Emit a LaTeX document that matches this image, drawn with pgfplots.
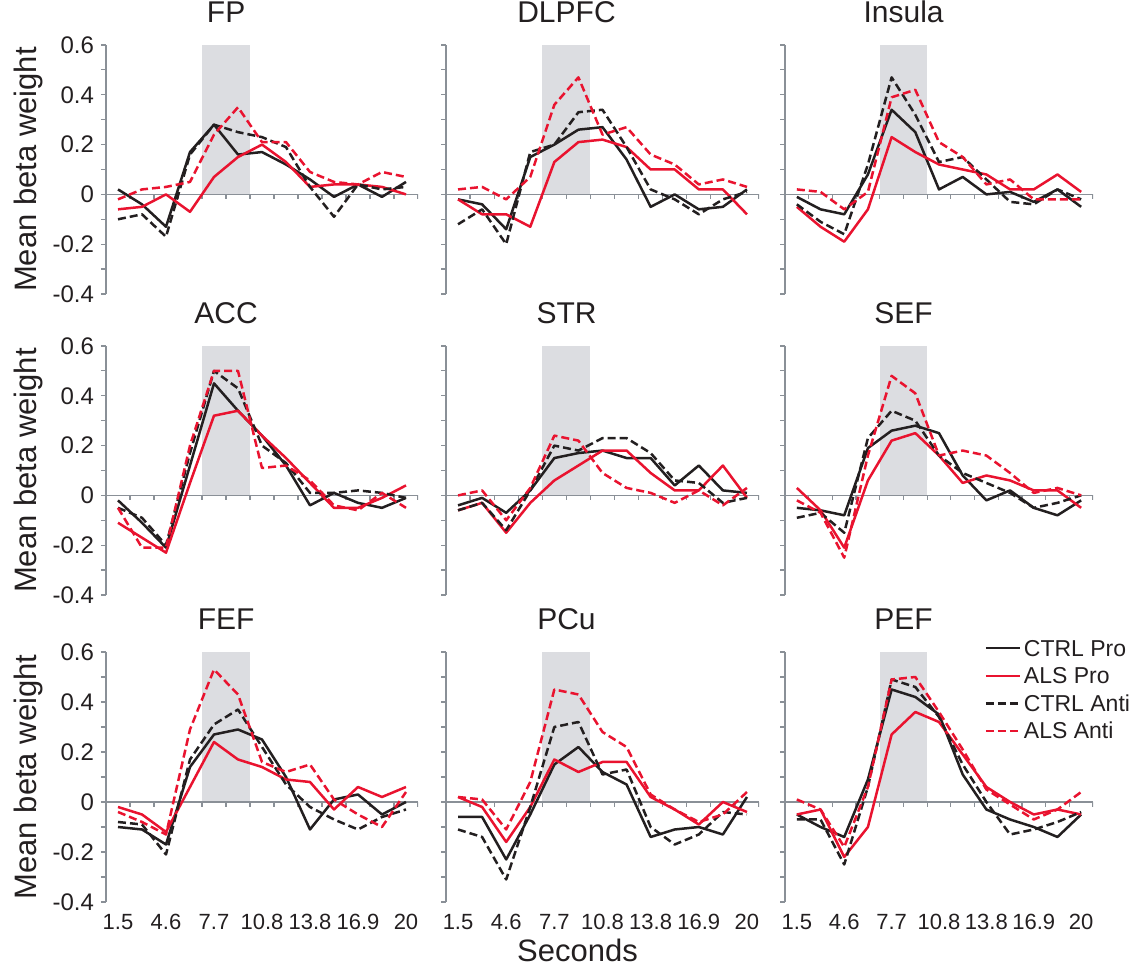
\documentclass[border=0pt]{standalone}
\usepackage{fontspec}
\setmainfont{Liberation Sans}
\usepackage{pgfplots}
\usepackage{pgfplotstable}
\pgfplotsset{compat=1.18}

\definecolor{ctrl}{RGB}{35,31,32}
\definecolor{als}{RGB}{233,19,47}
\definecolor{shadegray}{RGB}{220,221,225}
\definecolor{axgray}{RGB}{138,144,151}

% columns: t = time bin, cp = CTRL Pro, ap = ALS Pro, ca = CTRL Anti, aa = ALS Anti
\pgfplotstableread{
t  cp    ap    ca    aa
1  0.02  -0.06 -0.10 -0.02
2  -0.04 -0.05 -0.08 0.02
3  -0.13 0.00  -0.17 0.03
4  0.17  -0.07 0.16  0.05
5  0.28  0.07  0.28  0.24
6  0.16  0.15  0.25  0.35
7  0.17  0.20  0.23  0.21
8  0.12  0.13  0.19  0.21
9  0.06  0.03  0.03  0.09
10 -0.01 0.04  -0.09 0.05
11 0.04  0.04  0.04  0.04
12 -0.01 0.03  0.02  0.09
13 0.05  0.00  0.03  0.07
}\fp
\pgfplotstableread{
t  cp    ap    ca    aa
1  -0.02 -0.02 -0.12 0.02
2  -0.04 -0.08 -0.06 0.03
3  -0.14 -0.08 -0.20 -0.02
4  0.15  -0.13 0.17  0.07
5  0.20  0.13  0.20  0.36
6  0.26  0.21  0.33  0.47
7  0.27  0.22  0.34  0.24
8  0.14  0.19  0.19  0.27
9  -0.05 0.10  0.02  0.16
10 0.00  0.10  -0.02 0.12
11 -0.06 0.02  -0.08 0.04
12 -0.05 0.02  -0.02 0.06
13 0.02  -0.08 0.01  0.03
}\dlpfc
\pgfplotstableread{
t  cp    ap    ca    aa
1  -0.01 -0.05 -0.04 0.02
2  -0.06 -0.13 -0.11 0.01
3  -0.08 -0.19 -0.16 -0.06
4  0.08  -0.06 0.12  0.01
5  0.34  0.23  0.47  0.39
6  0.25  0.17  0.32  0.42
7  0.02  0.12  0.13  0.21
8  0.07  0.10  0.15  0.15
9  0.00  0.08  0.06  0.04
10 0.01  0.02  -0.03 0.06
11 -0.03 0.02  -0.04 -0.02
12 0.02  0.08  0.02  -0.02
13 -0.05 0.01  -0.02 -0.02
}\insula
\pgfplotstableread{
t  cp    ap    ca    aa
1  -0.02 -0.11 -0.05 -0.05
2  -0.11 -0.17 -0.09 -0.21
3  -0.21 -0.23 -0.20 -0.21
4  0.12  0.05  0.17  0.20
5  0.45  0.32  0.50  0.50
6  0.34  0.34  0.43  0.50
7  0.24  0.24  0.20  0.11
8  0.12  0.15  0.13  0.12
9  -0.04 0.05  0.01  0.06
10 0.01  -0.05 0.01  -0.04
11 -0.03 -0.05 0.02  -0.06
12 -0.05 -0.01 0.01  0.01
13 -0.01 0.04  -0.01 -0.05
}\acc
\pgfplotstableread{
t  cp    ap    ca    aa
1  -0.04 -0.06 -0.06 0.00
2  -0.01 -0.03 -0.03 0.02
3  -0.07 -0.15 -0.14 -0.10
4  0.02  -0.03 0.02  0.03
5  0.15  0.06  0.20  0.24
6  0.17  0.12  0.18  0.22
7  0.18  0.18  0.23  0.09
8  0.15  0.18  0.23  0.03
9  0.15  0.09  0.17  0.01
10 0.04  0.02  0.06  -0.03
11 0.12  0.02  0.05  0.02
12 0.02  0.12  -0.03 -0.04
13 0.01  -0.01 -0.01 0.03
}\str
\pgfplotstableread{
t  cp    ap    ca    aa
1  -0.05 0.03  -0.09 -0.02
2  -0.06 -0.06 -0.07 -0.07
3  -0.08 -0.21 -0.15 -0.25
4  0.19  0.06  0.23  0.16
5  0.26  0.22  0.34  0.48
6  0.28  0.25  0.30  0.41
7  0.25  0.16  0.16  0.16
8  0.08  0.05  0.09  0.18
9  -0.02 0.08  0.05  0.16
10 0.02  0.06  0.01  0.09
11 -0.05 0.02  -0.05 0.01
12 -0.08 0.02  -0.03 0.03
13 -0.02 -0.05 0.00  0.00
}\sef
\pgfplotstableread{
t  cp    ap    ca    aa
1  -0.10 -0.02 -0.08 -0.04
2  -0.11 -0.05 -0.09 -0.08
3  -0.17 -0.12 -0.21 -0.13
4  0.14  0.06  0.17  0.29
5  0.27  0.24  0.31  0.53
6  0.29  0.17  0.37  0.43
7  0.25  0.14  0.22  0.16
8  0.10  0.09  0.07  0.12
9  -0.11 0.08  -0.02 0.15
10 0.01  -0.03 -0.07 0.01
11 0.03  0.06  -0.11 -0.05
12 -0.05 0.02  -0.06 -0.10
13 0.00  0.06  -0.03 0.04
}\fef
\pgfplotstableread{
t  cp    ap    ca    aa
1  -0.06 0.02  -0.11 0.02
2  -0.06 -0.02 -0.14 0.01
3  -0.23 -0.16 -0.31 -0.11
4  -0.05 -0.02 -0.02 0.08
5  0.15  0.17  0.30  0.45
6  0.22  0.12  0.32  0.43
7  0.12  0.16  0.11  0.28
8  0.07  0.16  0.13  0.22
9  -0.14 0.02  -0.10 0.03
10 -0.11 -0.03 -0.17 -0.03
11 -0.10 -0.09 -0.13 -0.08
12 -0.13 0.00  -0.04 -0.05
13 0.02  -0.04 -0.05 0.04
}\pcu
\pgfplotstableread{
t  cp    ap    ca    aa
1  -0.05 -0.05 -0.07 0.01
2  -0.10 -0.03 -0.07 -0.03
3  -0.14 -0.22 -0.25 -0.18
4  0.09  -0.10 0.06  0.06
5  0.45  0.27  0.49  0.49
6  0.42  0.36  0.46  0.50
7  0.35  0.32  0.34  0.36
8  0.11  0.19  0.15  0.21
9  -0.03 0.06  0.00  0.05
10 -0.07 0.00  -0.13 -0.01
11 -0.10 -0.05 -0.11 -0.07
12 -0.14 -0.03 -0.08 -0.03
13 -0.05 -0.05 -0.04 0.04
}\pef

\pgfplotsset{
  panel/.style={
    scale only axis, height=124.5pt,
    xmin=0.5, xmax=13.5, ymin=-0.4, ymax=0.6,
    axis y line*=left, axis x line*=bottom,
    x axis line style={draw=none},
    y axis line style={axgray, line width=0.7pt},
    major x tick style={draw=none},
    ytick={-0.4,-0.2,0,0.2,0.4,0.6},
    minor ytick={-0.3,-0.1,0.1,0.3,0.5},
    yticklabels={},
    xtick={1,3,5,7,9,11,13},
    xticklabels={},
    tick align=outside,
    major tick length=2.5pt, minor tick length=2.5pt,
    every tick/.style={axgray, line width=0.6pt},
    yticklabel style={font=\fontsize{12}{14}\selectfont, text=ctrl},
    xticklabel style={font=\fontsize{11}{13}\selectfont, text=ctrl},
    title style={at={(axis description cs:0.385,1)}, anchor=base, yshift=5pt,
      font=\fontsize{15}{18}\selectfont, text=ctrl},
    ylabel style={at={(axis description cs:-0.25,0.5)}, anchor=center,
      font=\fontsize{15.5}{18}\selectfont, text=ctrl},
  },
  labelled/.style={yticklabels={-0.4,-0.2,0,0.2,0.4,0.6}, ylabel={Mean beta weight}},
  bottomrow/.style={height=125pt, xticklabels={1.5,4.6,7.7,10.8,13.8,16.9,20}},
  cp/.style={ctrl, line width=1.25pt, line join=round},
  ap/.style={als, line width=1.25pt, line join=round},
  ca/.style={ctrl, line width=1.25pt, line join=round, dash pattern=on 4pt off 2pt},
  aa/.style={als, line width=1.25pt, line join=round, dash pattern=on 4pt off 2pt},
}

% stimulus window, zero line with its tick marks, and the four series
\newcommand\panel[1]{%
  \addplot[fill=shadegray, draw=none, forget plot]
    coordinates {(4.5,0) (4.5,0.6) (6.5,0.6) (6.5,0)} -- cycle;
  \draw[axgray, line width=0.7pt] (axis cs:0.5,0) -- (axis cs:13.5,0);
  \draw[axgray, line width=0.6pt]
    (axis cs:0.5,0) -- ++(0pt,-2.5pt) (axis cs:1.5,0) -- ++(0pt,-2.5pt)
    (axis cs:2.5,0) -- ++(0pt,-2.5pt) (axis cs:3.5,0) -- ++(0pt,-2.5pt)
    (axis cs:4.5,0) -- ++(0pt,-2.5pt) (axis cs:5.5,0) -- ++(0pt,-2.5pt)
    (axis cs:6.5,0) -- ++(0pt,-2.5pt) (axis cs:7.5,0) -- ++(0pt,-2.5pt)
    (axis cs:8.5,0) -- ++(0pt,-2.5pt) (axis cs:9.5,0) -- ++(0pt,-2.5pt)
    (axis cs:10.5,0) -- ++(0pt,-2.5pt) (axis cs:11.5,0) -- ++(0pt,-2.5pt)
    (axis cs:12.5,0) -- ++(0pt,-2.5pt) (axis cs:13.5,0) -- ++(0pt,-2.5pt);
  \addplot[cp] table[x=t, y=cp] {#1};
  \addplot[ap] table[x=t, y=ap] {#1};
  \addplot[ca] table[x=t, y=ca] {#1};
  \addplot[aa] table[x=t, y=aa] {#1};
}

\begin{document}
\begin{tikzpicture}
\path[use as bounding box] (0,0) rectangle (568pt,484pt);

% row 1
\begin{axis}[panel, labelled, at={(53pt,337pt)}, anchor=south west, width=156pt, title={FP}]
\panel{\fp}
\end{axis}
\begin{axis}[panel, at={(223pt,337pt)}, anchor=south west, width=156.5pt, title={DLPFC}]
\panel{\dlpfc}
\end{axis}
\begin{axis}[panel, at={(392.5pt,337pt)}, anchor=south west, width=154pt, title={Insula}]
\panel{\insula}
\end{axis}

% row 2
\begin{axis}[panel, labelled, at={(53pt,186.5pt)}, anchor=south west, width=156pt, title={ACC}]
\panel{\acc}
\end{axis}
\begin{axis}[panel, at={(223pt,186.5pt)}, anchor=south west, width=156.5pt, title={STR}]
\panel{\str}
\end{axis}
\begin{axis}[panel, at={(392.5pt,186.5pt)}, anchor=south west, width=154pt, title={SEF}]
\panel{\sef}
\end{axis}

% row 3
\begin{axis}[panel, labelled, bottomrow, at={(53pt,33pt)}, anchor=south west, width=156pt, title={FEF}]
\panel{\fef}
\end{axis}
\begin{axis}[panel, bottomrow, at={(223pt,33pt)}, anchor=south west, width=156.5pt, title={PCu},
  xlabel={Seconds},
  xlabel style={at={(axis description cs:0.42,0)}, anchor=base, yshift=-30pt,
    font=\fontsize{15.5}{18}\selectfont, text=ctrl}]
\panel{\pcu}
\end{axis}
\begin{axis}[panel, bottomrow, at={(392.5pt,33pt)}, anchor=south west, width=154pt, title={PEF},
  legend style={at={(axis description cs:0.627,1.088)}, anchor=north west,
    draw=none, fill=none, font=\fontsize{11.5}{13.5}\selectfont, text=ctrl,
    nodes={inner sep=1.4pt, text height=9.5pt, text depth=1.5pt}},
  legend cell align=left]
\panel{\pef}
\legend{CTRL Pro, ALS Pro, CTRL Anti, ALS Anti}
\end{axis}
\end{tikzpicture}
\end{document}
